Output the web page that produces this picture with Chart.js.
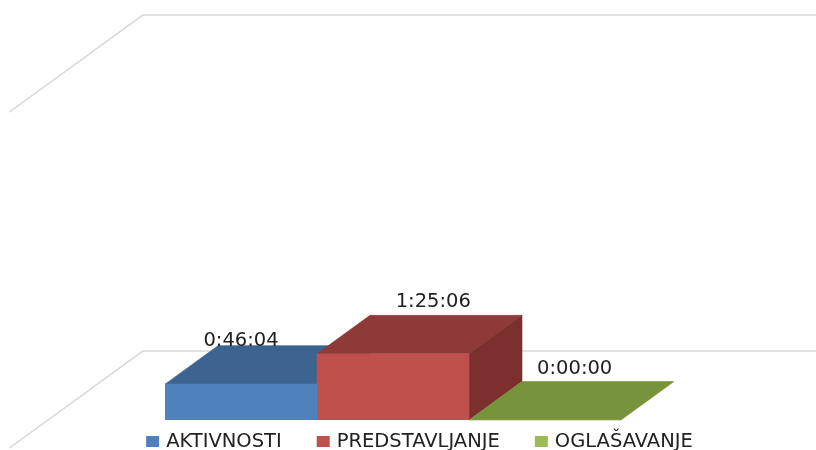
<!DOCTYPE html>
<html><head><meta charset="utf-8">
<script src="https://cdn.jsdelivr.net/npm/chart.js@4.4.1/dist/chart.umd.min.js"></script>
<style>html,body{margin:0;padding:0;background:#fff;}canvas{display:block;}</style>
</head><body>
<canvas id="c" width="816" height="450"></canvas>
<script>
// ---- data ----
const categories = [''];
const seriesNames = ['AKTIVNOSTI', 'PREDSTAVLJANJE', 'OGLAŠAVANJE'];
const seriesSeconds = [2764, 5106, 0];          // 0:46:04, 1:25:06, 0:00:00
const axisTicksSeconds = [0, 25920];            // gridlines 0:00:00 and 7:12:00

// ---- styles ----
const FRONT = ['#4F81BD', '#C0504D', '#9BBB59'];
const TOP   = ['#3D6391', '#8E3A39', '#77933C'];
const SIDE  = ['#2F4E74', '#7B302E', '#5E7530'];
const LABEL_POS = [{along: 0, lift: 0}, {along: 0.76, lift: 8}, {along: 0.56, lift: 8}];
const DEPTH = {x: 53, y: -38.5};
const FONT = '19.5px "DejaVu Sans"';
const TEXT = '#222222';
const GRID = '#D9D9D9';

function fmt(s) {
  const h = Math.floor(s / 3600), m = Math.floor((s % 3600) / 60), sec = s % 60;
  return h + ':' + String(m).padStart(2, '0') + ':' + String(sec).padStart(2, '0');
}

function poly(ctx, pts, color) {
  ctx.beginPath();
  ctx.moveTo(pts[0][0], pts[0][1]);
  for (let i = 1; i < pts.length; i++) ctx.lineTo(pts[i][0], pts[i][1]);
  ctx.closePath();
  ctx.fillStyle = color;
  ctx.fill();
  ctx.strokeStyle = color;
  ctx.lineWidth = 0.6;
  ctx.stroke();
}

const threeD = {
  id: 'threeD',
  beforeDatasetsDraw(chart) {
    const ctx = chart.ctx, ca = chart.chartArea, ys = chart.scales.y;
    // walls: side wall + back wall gridlines
    const floorLeft = ca.left - 117;
    const back = {x: DEPTH.x * 1.79, y: DEPTH.y * 1.79};
    const front = {x: -DEPTH.x * 0.73, y: -DEPTH.y * 0.73};
    ctx.save();
    ctx.strokeStyle = GRID;
    ctx.lineWidth = 1.5;
    axisTicksSeconds.forEach(v => {
      const py = ys.getPixelForValue(v);
      ctx.beginPath();
      ctx.moveTo(floorLeft + front.x, py + front.y);
      ctx.lineTo(floorLeft + back.x, py + back.y);
      ctx.lineTo(chart.width, py + back.y);
      ctx.stroke();
    });
    // top and side faces
    chart.data.datasets.forEach((ds, i) => {
      chart.getDatasetMeta(i).data.forEach(bar => {
        const p = bar.getProps(['x', 'y', 'base', 'width'], true);
        const l = p.x - p.width / 2, r = p.x + p.width / 2;
        const t = Math.min(p.y, p.base), b = Math.max(p.y, p.base);
        poly(ctx, [[l, t], [r, t], [r + DEPTH.x, t + DEPTH.y], [l + DEPTH.x, t + DEPTH.y]], TOP[i]);
        if (b - t > 0.5) {
          poly(ctx, [[r, t], [r + DEPTH.x, t + DEPTH.y], [r + DEPTH.x, b + DEPTH.y], [r, b]], SIDE[i]);
        }
      });
    });
    ctx.restore();
  },
  afterDatasetsDraw(chart) {
    const ctx = chart.ctx;
    ctx.save();
    ctx.font = FONT;
    ctx.fillStyle = TEXT;
    ctx.textAlign = 'center';
    ctx.textBaseline = 'alphabetic';
    chart.data.datasets.forEach((ds, i) => {
      chart.getDatasetMeta(i).data.forEach((bar, j) => {
        const p = bar.getProps(['x', 'y', 'base'], true);
        const t = Math.min(p.y, p.base);
        const lp = LABEL_POS[i];
        ctx.fillText(fmt(ds.data[j]), p.x + lp.along * DEPTH.x, t + DEPTH.y - lp.lift);
      });
    });
    ctx.restore();
  },
  afterDraw(chart) {
    // legend
    const ctx = chart.ctx, ca = chart.chartArea;
    ctx.save();
    ctx.font = FONT;
    const boxW = 13, boxH = 11, gap = 7, itemGap = 35;
    const items = chart.data.datasets.map((ds, i) => ({text: ds.label, color: FRONT[i], w: ctx.measureText(ds.label).width}));
    const total = items.reduce((a, it) => a + boxW + gap + it.w, 0) + itemGap * (items.length - 1);
    let x = (ca.left + ca.right) / 2 + DEPTH.x / 2 - total / 2;
    ctx.textAlign = 'left';
    ctx.textBaseline = 'alphabetic';
    items.forEach(it => {
      ctx.fillStyle = it.color;
      ctx.fillRect(x, ca.bottom + 16, boxW, boxH);
      ctx.fillStyle = TEXT;
      ctx.fillText(it.text, x + boxW + gap, ca.bottom + 27);
      x += boxW + gap + it.w + itemGap;
    });
    ctx.restore();
  }
};

new Chart(document.getElementById('c'), {
  type: 'bar',
  data: {
    labels: categories,
    datasets: seriesNames.map((name, i) => ({
      label: name,
      data: [seriesSeconds[i]],
      backgroundColor: FRONT[i],
      borderWidth: 0,
      categoryPercentage: 1,
      barPercentage: 1
    }))
  },
  options: {
    responsive: false,
    animation: false,
    devicePixelRatio: 1,
    layout: {padding: {left: 165, right: 195, top: 84, bottom: 30}},
    scales: {
      x: {display: false},
      y: {display: false, min: axisTicksSeconds[0], max: axisTicksSeconds[axisTicksSeconds.length - 1]}
    },
    plugins: {legend: {display: false}, tooltip: {enabled: false}}
  },
  plugins: [threeD]
});
</script>
</body></html>
